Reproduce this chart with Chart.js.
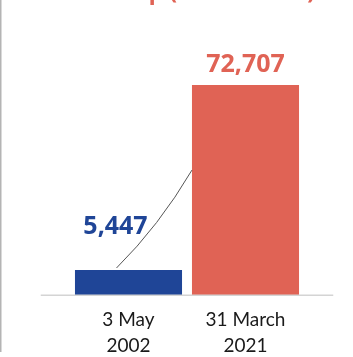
<!DOCTYPE html>
<html>
<head>
<meta charset="utf-8">
<script src="https://cdn.jsdelivr.net/npm/chart.js@4"></script>
<style>
  html, body { margin: 0; padding: 0; background: #fff; }
  #wrap { width: 353px; height: 357px; position: relative; }
</style>
</head>
<body>
<div id="wrap"><canvas id="myChart"></canvas></div>
<script>
const dates = [['3 May', '2002'], ['31 March', '2021']]
const members = [5447, 72707]
const barColors = ['#1f4597', '#e06355']
const titleText = 'Membership (in numbers)'

const valueFont = "'Noto Sans', sans-serif"
const tickFont = "Lato, 'Noto Sans', sans-serif"

// value labels, connector curve, frame line and the clipped title
const extras = {
    id: 'extras',
    afterDatasetsDraw(chart, args, opts) {
        const c = chart.ctx
        const bars = chart.getDatasetMeta(0).data
        const x = chart.scales.x
        const base = chart.scales.y.bottom

        c.save()
        // left frame line
        c.fillStyle = '#b4b4b4'
        c.fillRect(0, 0, 1.5, 352)

        // baseline, a bit wider than the bars
        const cat = x.width / 2
        c.fillStyle = '#d4d4d4'
        c.fillRect(x.left - cat * 0.25, base - 0.5, x.width + cat * 0.5, 1.5)

        // title, mostly off the top
        c.fillStyle = '#e06355'
        c.font = 'bold 23px ' + valueFont
        c.textAlign = 'right'
        c.textBaseline = 'alphabetic'
        c.fillText(titleText, 315, -1)

        // value labels
        c.textAlign = 'center'
        bars.forEach((bar, i) => {
            const off = opts.offsets[i]
            c.fillStyle = barColors[i]
            c.font = 'bold 25px ' + valueFont
            c.fillText(members[i].toLocaleString('en-US'), bar.x + off[0], bar.y + off[1])
        })

        // connector curve
        const a = bars[0], b = bars[1]
        const sx = a.x - 12, sy = a.y - 2
        const ex = b.x - b.width / 2, ey = b.y + 0.405 * (base - b.y)
        c.strokeStyle = '#555'
        c.lineWidth = 1
        c.beginPath()
        c.moveTo(sx, sy)
        c.quadraticCurveTo(ex - 33, sy - 42, ex, ey)
        c.stroke()
        c.restore()
    }
}

new Chart(document.getElementById('myChart'), {
    type: 'bar',
    data: {
        labels: dates,
        datasets: [{
            data: members,
            backgroundColor: barColors,
            base: -3650,
            barPercentage: 0.915,
            categoryPercentage: 1
        }]
    },
    options: {
        responsive: true,
        maintainAspectRatio: false,
        animation: false,
        layout: { padding: { left: 70, right: 49, top: 10, bottom: 0 } },
        plugins: {
            legend: { display: false },
            tooltip: { enabled: false },
            extras: { offsets: [[-13, -36], [0, -13]] }
        },
        scales: {
            x: {
                grid: { display: false },
                border: { display: false },
                afterFit(scale) { scale.height = 62 },
                ticks: {
                    color: '#1a1a1a',
                    padding: 4,
                    maxRotation: 0,
                    font: { family: tickFont, size: 19, lineHeight: 1.37 }
                }
            },
            y: {
                display: false,
                min: -3650,
                max: 100000
            }
        }
    },
    plugins: [extras]
});
</script>
</body>
</html>
